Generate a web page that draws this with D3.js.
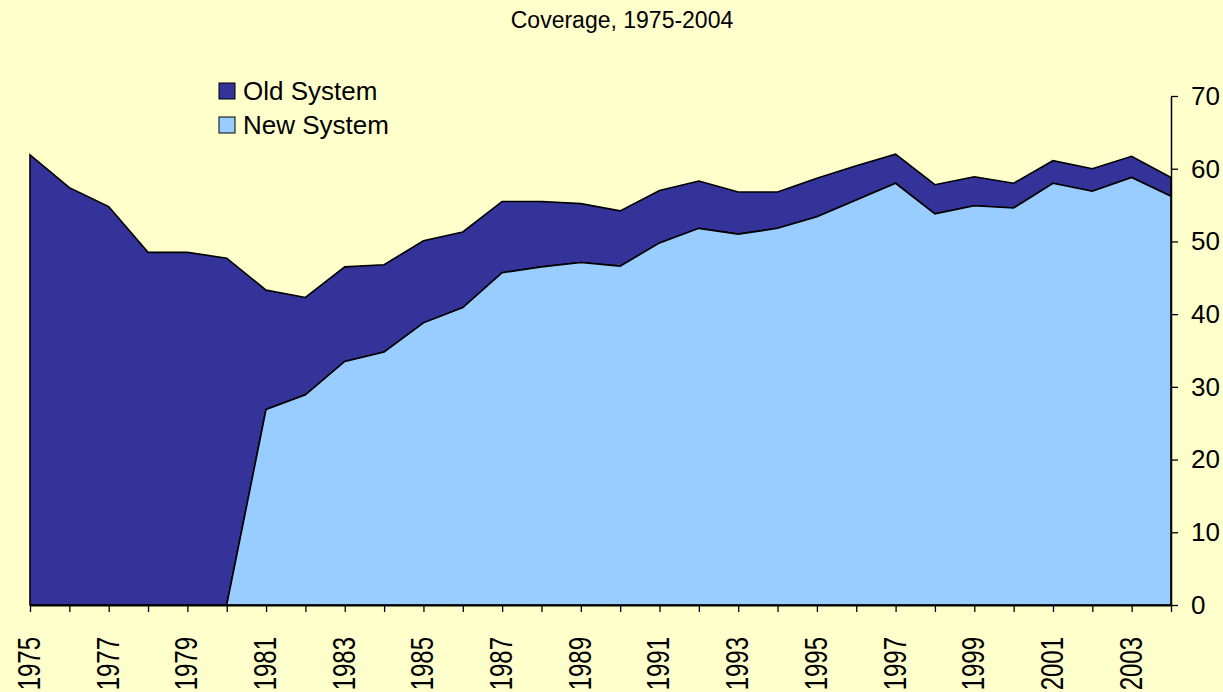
<!DOCTYPE html>
<html>
<head>
<meta charset="utf-8">
<script src="https://cdn.jsdelivr.net/npm/d3@7"></script>
<style>
  body { margin: 0; background: #FFFFCC; }
  svg { display: block; font-family: "Liberation Sans", Arial, sans-serif; }
</style>
</head>
<body>
<svg id="chart" width="1223" height="692"></svg>
<script>
// data
let years = [1975, 1976, 1977, 1978, 1979, 1980, 1981, 1982, 1983, 1984,
             1985, 1986, 1987, 1988, 1989, 1990, 1991, 1992, 1993, 1994,
             1995, 1996, 1997, 1998, 1999, 2000, 2001, 2002, 2003, 2004];
let newSystem = [0, 0, 0, 0, 0, 0, 26.9, 28.9, 33.5, 34.8,
                 38.8, 40.9, 45.7, 46.5, 47.1, 46.6, 49.8, 51.8, 51.0, 51.8,
                 53.4, 55.7, 58.0, 53.8, 54.9, 54.6, 58.0, 56.9, 58.8, 56.2];
let oldSystem = [61.9, 57.4, 54.8, 48.5, 48.5, 47.7, 16.4, 13.4, 13.0, 12.0,
                 11.3, 10.4, 9.8, 9.0, 8.1, 7.6, 7.2, 6.5, 5.8, 5.0,
                 5.3, 4.7, 4.0, 4.0, 4.0, 3.4, 3.1, 3.1, 2.9, 2.6];
let yTicks = [0, 10, 20, 30, 40, 50, 60, 70];
let seriesNames = ["Old System", "New System"];
let seriesColors = ["#333399", "#99CCFF"];

let svg = d3.select("#chart");
let xScale = d3.scaleLinear().domain([1975, 2004]).range([30, 1171]);
let yScale = d3.scaleLinear().domain([0, 70]).range([605, 96]);

// build rows for the stack, new system sits at the bottom
let rows = years.map((y, i) => ({ year: y, New: newSystem[i], Old: oldSystem[i] }));
let stacked = d3.stack().keys(["New", "Old"])(rows);

let areaGen = d3.area()
  .x(d => xScale(d.data.year))
  .y0(d => yScale(d[0]))
  .y1(d => yScale(d[1]));

// draw old system first so the band outline stays on top of the axis
svg.selectAll("path.band")
  .data(stacked.slice().reverse())
  .enter()
  .append("path")
  .attr("class", "band")
  .attr("fill", d => d.key == "Old" ? seriesColors[0] : seriesColors[1])
  .attr("stroke", "#000")
  .attr("stroke-width", 1.6)
  .attr("stroke-linejoin", "miter")
  .attr("d", areaGen);

// title
svg.append("text")
  .attr("x", 622)
  .attr("y", 28)
  .attr("text-anchor", "middle")
  .style("font-size", "23px")
  .text("Coverage, 1975-2004");

// x axis: a tick every year, label every other year
let xAxis = d3.axisBottom(xScale)
  .tickValues(years)
  .tickSize(7)
  .tickSizeOuter(0)
  .tickFormat(d => (d % 2 == 1 ? String(d) : ""));

let gx = svg.append("g")
  .attr("transform", "translate(0,605)")
  .call(xAxis);
gx.select(".domain").attr("stroke", "#000").attr("stroke-width", 2);
gx.selectAll(".tick line").attr("stroke", "#000").attr("stroke-width", 1.3);
gx.selectAll(".tick text")
  .attr("x", -32)
  .attr("y", -1)
  .attr("dy", "0.35em")
  .attr("text-anchor", "end")
  .attr("fill", "#000")
  .attr("transform", "rotate(-90) scale(1,1.28)")
  .style("font-size", "24px");

// y axis on the right
let yAxis = d3.axisRight(yScale)
  .tickValues(yTicks)
  .tickSize(7)
  .tickSizeOuter(0)
  .tickPadding(13);

let gy = svg.append("g")
  .attr("transform", "translate(1171,0)")
  .call(yAxis);
gy.select(".domain").attr("stroke", "#000").attr("stroke-width", 1.5);
gy.selectAll(".tick line").attr("stroke", "#000").attr("stroke-width", 1.3);
gy.selectAll(".tick text")
  .attr("fill", "#000")
  .style("font-size", "26px");

// legend
let legend = svg.append("g").attr("transform", "translate(219,83)");
seriesNames.forEach((name, i) => {
  legend.append("rect")
    .attr("x", 0)
    .attr("y", i * 34)
    .attr("width", 16)
    .attr("height", 16)
    .attr("fill", seriesColors[i])
    .attr("stroke", "#000")
    .attr("stroke-width", 1);
  legend.append("text")
    .attr("x", 24)
    .attr("y", i * 34 + 17)
    .style("font-size", "26px")
    .text(name);
});
</script>
</body>
</html>
